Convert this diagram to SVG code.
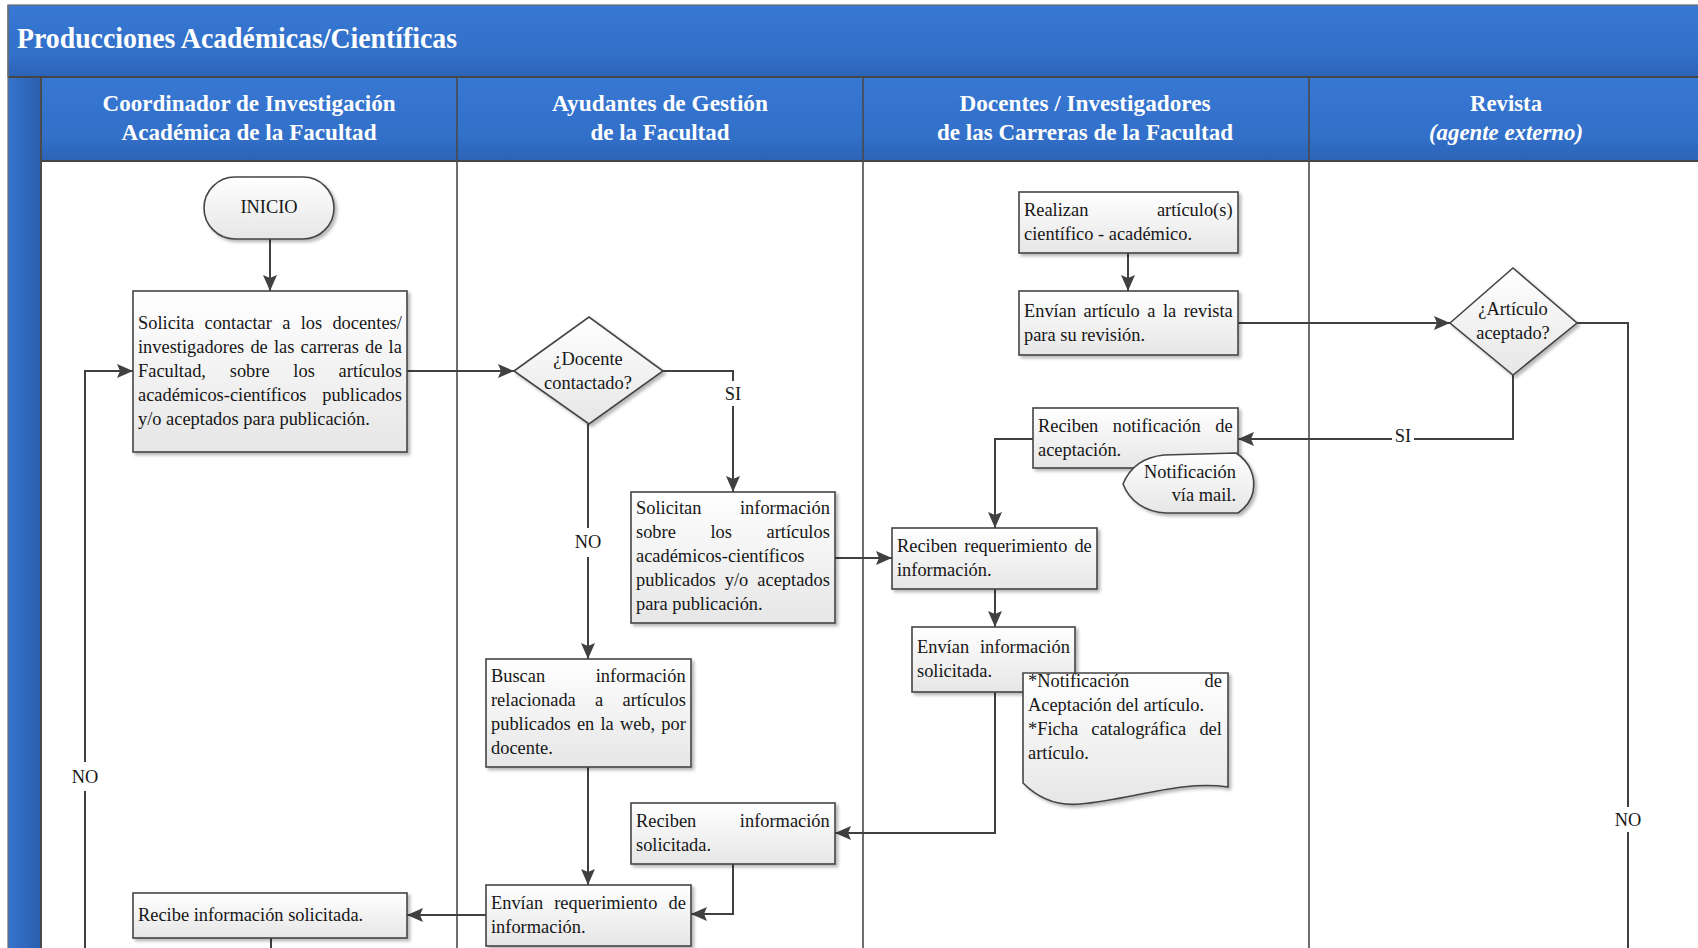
<svg xmlns="http://www.w3.org/2000/svg" width="1698" height="948" viewBox="0 0 1698 948">
  <defs>
    <linearGradient id="bandGrad" x1="0" y1="0" x2="0" y2="1">
      <stop offset="0" stop-color="#3778d3"/>
      <stop offset="0.7" stop-color="#3270c9"/>
      <stop offset="1" stop-color="#2c63b6"/>
    </linearGradient>
    <linearGradient id="stripGrad" x1="0" y1="0" x2="1" y2="0">
      <stop offset="0" stop-color="#3674ce"/>
      <stop offset="1" stop-color="#2a5dad"/>
    </linearGradient>
    <linearGradient id="nodeFill" x1="0" y1="0" x2="0" y2="1">
      <stop offset="0" stop-color="#ffffff"/>
      <stop offset="1" stop-color="#e6e6e6"/>
    </linearGradient>
    <filter id="shadow" x="-10%" y="-10%" width="125%" height="130%">
      <feDropShadow dx="2.5" dy="2.5" stdDeviation="1.6" flood-color="#000000" flood-opacity="0.28"/>
    </filter>
    <marker id="arrow" markerWidth="17" markerHeight="14" refX="16" refY="7" orient="auto" markerUnits="userSpaceOnUse">
      <path d="M0,0 L16,7 L0,14 L3,7 Z" fill="#404040"/>
    </marker>
  </defs>
  <style>
    .shape { fill: url(#nodeFill); stroke: #444444; stroke-width: 1.6; filter: url(#shadow); }
    .t { font-family: "Liberation Serif", "Times New Roman", serif; font-size: 18.4px; fill: #161616; }
    .c { text-anchor: middle; }
    .e { text-anchor: end; }
    .hdr { font-family: "Liberation Serif", "Times New Roman", serif; font-weight: bold; font-size: 24px; fill: #ffffff; text-anchor: middle; }
    .conn { fill: none; stroke: #404040; stroke-width: 2; }
    .lane { stroke: #4a4a4a; stroke-width: 1.6; }
    .gap { fill: #ffffff; }
  </style>

  <!-- page and pool frame -->
  <rect x="0" y="0" width="1698" height="948" fill="#ffffff"/>
  <g id="pool">
    <rect x="8" y="5" width="1700" height="72" fill="url(#bandGrad)" stroke="#6b6b6b" stroke-width="1.2"/>
    <text x="17" y="48" font-family="Liberation Serif, Times New Roman, serif" font-weight="bold" font-size="30" fill="#ffffff" textLength="440" lengthAdjust="spacingAndGlyphs">Producciones Académicas/Científicas</text>
    <rect x="41" y="77" width="1667" height="84" fill="url(#bandGrad)"/>
    <rect x="8" y="77" width="33" height="871" fill="url(#stripGrad)"/>
    <line x1="41" y1="77" x2="41" y2="948" stroke="#4a4a4a" stroke-width="2"/>
    <line x1="8" y1="77" x2="1698" y2="77" stroke="#454545" stroke-width="2"/>
    <line x1="41" y1="161" x2="1698" y2="161" stroke="#454545" stroke-width="2.2"/>
    <line x1="8" y1="5" x2="8" y2="948" stroke="#6b6b6b" stroke-width="1.2"/>
  </g>

  <!-- swimlanes -->
  <g id="lanes">
    <line class="lane" x1="457" y1="77" x2="457" y2="948"/>
    <line class="lane" x1="863" y1="77" x2="863" y2="948"/>
    <line class="lane" x1="1309" y1="77" x2="1309" y2="948"/>
    <g id="lane-coordinador">
      <text class="hdr" x="249" y="111" textLength="293" lengthAdjust="spacingAndGlyphs">Coordinador de Investigación</text>
      <text class="hdr" x="249" y="140" textLength="255" lengthAdjust="spacingAndGlyphs">Académica de la Facultad</text>
    </g>
    <g id="lane-ayudantes">
      <text class="hdr" x="660" y="111" textLength="216" lengthAdjust="spacingAndGlyphs">Ayudantes de Gestión</text>
      <text class="hdr" x="660" y="140" textLength="139" lengthAdjust="spacingAndGlyphs">de la Facultad</text>
    </g>
    <g id="lane-docentes">
      <text class="hdr" x="1085" y="111" textLength="251" lengthAdjust="spacingAndGlyphs">Docentes / Investigadores</text>
      <text class="hdr" x="1085" y="140" textLength="296" lengthAdjust="spacingAndGlyphs">de las Carreras de la Facultad</text>
    </g>
    <g id="lane-revista">
      <text class="hdr" x="1506" y="111" textLength="72" lengthAdjust="spacingAndGlyphs">Revista</text>
      <text class="hdr" x="1506" y="140" font-style="italic" textLength="154" lengthAdjust="spacingAndGlyphs">(agente externo)</text>
    </g>
  </g>

  <!-- connectors -->
  <g id="connectors">
    <path class="conn" d="M270,239 V291" marker-end="url(#arrow)"/>
    <path class="conn" d="M407,371 H514" marker-end="url(#arrow)"/>
    <path class="conn" d="M663,371 H733 V492" marker-end="url(#arrow)"/>
    <path class="conn" d="M588,424 V659" marker-end="url(#arrow)"/>
    <path class="conn" d="M835,558 H892" marker-end="url(#arrow)"/>
    <path class="conn" d="M1128,253 V291" marker-end="url(#arrow)"/>
    <path class="conn" d="M1238,323 H1450" marker-end="url(#arrow)"/>
    <path class="conn" d="M1513,375 V439 H1238" marker-end="url(#arrow)"/>
    <path class="conn" d="M1577,323 H1628 V948"/>
    <path class="conn" d="M1033,439 H995 V528" marker-end="url(#arrow)"/>
    <path class="conn" d="M995,589 V627" marker-end="url(#arrow)"/>
    <path class="conn" d="M995,692 V833 H835" marker-end="url(#arrow)"/>
    <path class="conn" d="M588,767 V885" marker-end="url(#arrow)"/>
    <path class="conn" d="M733,864 V914 H691" marker-end="url(#arrow)"/>
    <path class="conn" d="M486,915 H407" marker-end="url(#arrow)"/>
    <path class="conn" d="M271,938 V948"/>
    <path class="conn" d="M85,948 V371 H133" marker-end="url(#arrow)"/>

    <!-- branch labels -->
    <rect class="gap" x="721" y="381" width="24" height="25"/>
    <text class="t c" x="733" y="400">SI</text>
    <rect class="gap" x="572" y="528" width="32" height="29"/>
    <text class="t c" x="588" y="548">NO</text>
    <rect class="gap" x="1392" y="430" width="22" height="16"/>
    <text class="t c" x="1403" y="442">SI</text>
    <rect class="gap" x="1612" y="807" width="32" height="25"/>
    <text class="t c" x="1628" y="826">NO</text>
    <rect class="gap" x="69" y="762" width="32" height="29"/>
    <text class="t c" x="85" y="783">NO</text>
  </g>

  <!-- nodes -->
  <g id="inicio">
    <rect class="shape" x="204" y="177" width="130" height="62" rx="31" ry="31"/>
    <text class="t c" x="269" y="213">INICIO</text>
  </g>

  <g id="solicita-contactar">
    <rect class="shape" x="133" y="291" width="274" height="161"/>
    <text class="t" x="138" y="329" word-spacing="5.7">Solicita contactar a los docentes/</text>
    <text class="t" x="138" y="353" word-spacing="1.6">investigadores de las carreras de la</text>
    <text class="t" x="138" y="377" word-spacing="19.2">Facultad, sobre los artículos</text>
    <text class="t" x="138" y="401" word-spacing="11.1">académicos-científicos publicados</text>
    <text class="t" x="138" y="425">y/o aceptados para publicación.</text>
  </g>

  <g id="docente-contactado">
    <polygon class="shape" points="514,371 589,317 663,371 589,424"/>
    <text class="t c" x="588" y="365">¿Docente</text>
    <text class="t c" x="588" y="389">contactado?</text>
  </g>

  <g id="solicitan-informacion">
    <rect class="shape" x="631" y="492" width="204" height="131"/>
    <text class="t" x="636" y="514" word-spacing="34">Solicitan información</text>
    <text class="t" x="636" y="538" word-spacing="30">sobre los artículos</text>
    <text class="t" x="636" y="562">académicos-científicos</text>
    <text class="t" x="636" y="586" word-spacing="4.5">publicados y/o aceptados</text>
    <text class="t" x="636" y="610">para publicación.</text>
  </g>

  <g id="buscan-informacion">
    <rect class="shape" x="486" y="659" width="205" height="108"/>
    <text class="t" x="491" y="682" word-spacing="46">Buscan información</text>
    <text class="t" x="491" y="706" word-spacing="14.7">relacionada a artículos</text>
    <text class="t" x="491" y="730" word-spacing="1.6">publicados en la web, por</text>
    <text class="t" x="491" y="754">docente.</text>
  </g>

  <g id="reciben-informacion">
    <rect class="shape" x="631" y="803" width="204" height="61"/>
    <text class="t" x="636" y="827" word-spacing="39">Reciben información</text>
    <text class="t" x="636" y="851">solicitada.</text>
  </g>

  <g id="envian-requerimiento">
    <rect class="shape" x="486" y="885" width="205" height="61"/>
    <text class="t" x="491" y="909" word-spacing="6.5">Envían requerimiento de</text>
    <text class="t" x="491" y="933">información.</text>
  </g>

  <g id="recibe-informacion">
    <rect class="shape" x="133" y="893" width="274" height="45"/>
    <text class="t" x="138" y="921">Recibe información solicitada.</text>
  </g>

  <g id="realizan-articulo">
    <rect class="shape" x="1019" y="192" width="219" height="61"/>
    <text class="t" x="1024" y="216" word-spacing="64">Realizan artículo(s)</text>
    <text class="t" x="1024" y="240">científico - académico.</text>
  </g>

  <g id="envian-articulo">
    <rect class="shape" x="1019" y="291" width="219" height="64"/>
    <text class="t" x="1024" y="317" word-spacing="2.9">Envían artículo a la revista</text>
    <text class="t" x="1024" y="341">para su revisión.</text>
  </g>

  <g id="articulo-aceptado">
    <polygon class="shape" points="1450,323 1513,268 1577,323 1513,375"/>
    <text class="t c" x="1513" y="315">¿Artículo</text>
    <text class="t c" x="1513" y="339">aceptado?</text>
  </g>

  <g id="reciben-notificacion">
    <rect class="shape" x="1033" y="408" width="205" height="60"/>
    <text class="t" x="1038" y="432" word-spacing="10">Reciben notificación de</text>
    <text class="t" x="1038" y="456">aceptación.</text>
  </g>

  <g id="notificacion-mail">
    <path class="shape" d="M1123,484 C1130,467 1144,457 1164,455 L1236,453 C1250,462 1256,477 1253,492 C1251,502 1245,508 1238,513 L1166,513 C1146,512 1130,502 1123,484 Z"/>
    <text class="t e" x="1236" y="478">Notificación</text>
    <text class="t e" x="1236" y="501">vía mail.</text>
  </g>

  <g id="reciben-requerimiento">
    <rect class="shape" x="892" y="528" width="205" height="61"/>
    <text class="t" x="897" y="552" word-spacing="2.4">Reciben requerimiento de</text>
    <text class="t" x="897" y="576">información.</text>
  </g>

  <g id="envian-informacion">
    <rect class="shape" x="912" y="627" width="163" height="65"/>
    <text class="t" x="917" y="653" word-spacing="6.3">Envían información</text>
    <text class="t" x="917" y="677">solicitada.</text>
  </g>

  <g id="documentos">
    <path class="shape" d="M1023,673 H1228 V787 C1180,780 1130,800 1080,804 C1060,806 1040,800 1023,783 Z"/>
    <text class="t" x="1028" y="687" word-spacing="70.8">*Notificación de</text>
    <text class="t" x="1028" y="711">Aceptación del artículo.</text>
    <text class="t" x="1028" y="735" word-spacing="8.6">*Ficha catalográfica del</text>
    <text class="t" x="1028" y="759">artículo.</text>
  </g>
</svg>
